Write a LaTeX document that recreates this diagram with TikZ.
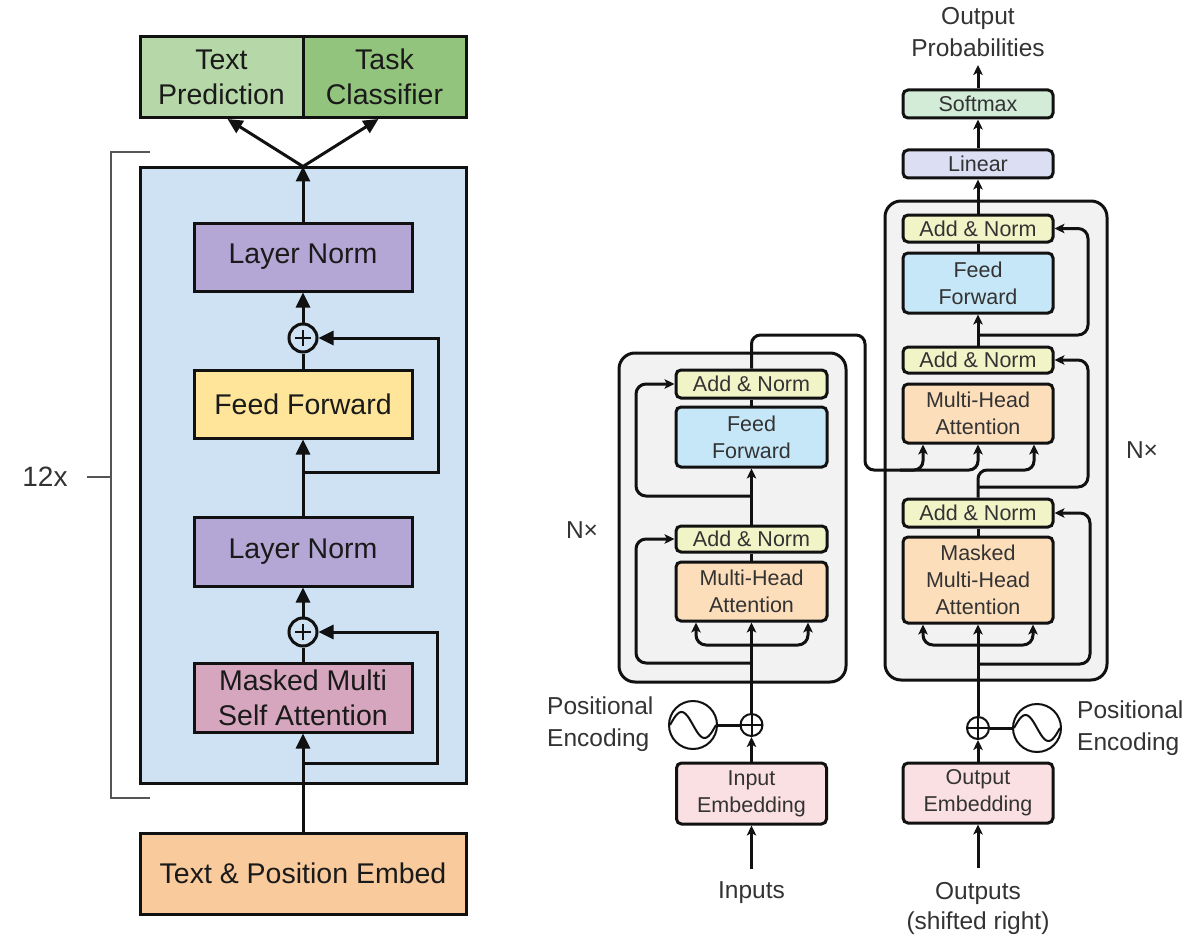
\documentclass[tikz,border=0pt]{standalone}
\usepackage{fontspec}
\setmainfont{Liberation Sans}
\usetikzlibrary{arrows.meta,calc}
\definecolor{tpcol}{HTML}{B6D7A8}
\definecolor{tccol}{HTML}{93C47D}
\definecolor{bluebg}{HTML}{CFE2F3}
\definecolor{lncol}{HTML}{B4A7D6}
\definecolor{ffcol}{HTML}{FFE599}
\definecolor{mmcol}{HTML}{D5A6BD}
\definecolor{tecol}{HTML}{F9CB9C}
\definecolor{ltext}{HTML}{1A1A1A}
\definecolor{rtext}{HTML}{333333}
\definecolor{addcol}{HTML}{F1F4C6}
\definecolor{rffcol}{HTML}{C6E7F7}
\definecolor{mhacol}{HTML}{FCDEBB}
\definecolor{embcol}{HTML}{FBE0E3}
\definecolor{lincol}{HTML}{DCDFF4}
\definecolor{smcol}{HTML}{D2ECD8}
\definecolor{outercol}{HTML}{F2F2F2}
\definecolor{brkcol}{HTML}{555555}
\definecolor{linecol}{HTML}{111111}
\begin{document}
\begin{tikzpicture}[x=1pt,y=-1pt,
  lbox/.style={draw=linecol, line width=3pt, inner sep=0pt, align=center,
    font=\fontsize{28.5}{35}\selectfont, text=ltext},
  lplus/.style={circle, draw=linecol, fill=bluebg, line width=3pt, minimum size=28pt, inner sep=0pt,
    path picture={\draw[line width=2.8pt] ([xshift=-8pt]path picture bounding box.center) -- ([xshift=8pt]path picture bounding box.center);
      \draw[line width=2.8pt] ([yshift=-8pt]path picture bounding box.center) -- ([yshift=8pt]path picture bounding box.center);}},
  larr/.style={draw=linecol, line width=3pt, -{Triangle[width=14pt,length=15pt]}},
  lline/.style={draw=linecol, line width=3pt},
  bracket/.style={draw=brkcol, line width=1.6pt},
  rbox/.style={draw=linecol, rounded corners=5pt, line width=3pt, inner sep=0pt, align=center,
    font=\fontsize{21.5}{27}\selectfont, text=rtext},
  outerbox/.style={draw=linecol, fill=outercol, rounded corners=16pt, line width=3pt},
  rlabel/.style={font=\fontsize{24.5}{32}\selectfont, text=rtext, align=center, inner sep=0pt},
  rplus/.style={circle, draw=linecol, fill=white, line width=2pt, minimum size=22pt, inner sep=0pt,
    path picture={\draw[line width=2pt] (path picture bounding box.west) -- (path picture bounding box.east);
      \draw[line width=2pt] (path picture bounding box.north) -- (path picture bounding box.south);}},
  sinecirc/.style={circle, draw=linecol, fill=white, line width=2pt, minimum size=48pt, inner sep=0pt},
  rarr/.style={draw=linecol, line width=3pt, -{Stealth[width=9.5pt,length=10pt,inset=2.5pt]}},
  rline/.style={draw=linecol, line width=3pt},
]
\useasboundingbox[fill=white] (0,0) rectangle (1200,947);

% ================= LEFT: GPT =================
\node[lbox, fill=bluebg, minimum width=326pt, minimum height=615pt] (blue) at (303,475.5) {};
\node[lbox, fill=tpcol, minimum width=163pt, minimum height=81pt] (tp) at (221.5,77) {Text\\Prediction};
\node[lbox, fill=tccol, minimum width=163pt, minimum height=81pt] (tc) at (384.5,77) {Task\\Classifier};
\node[lbox, fill=lncol, minimum width=218pt, minimum height=68pt] (ln1) at (303,257) {Layer Norm};
\node[lplus] (p1) at (303,338) {};
\node[lbox, fill=ffcol, minimum width=218pt, minimum height=68pt] (ff) at (303,404) {Feed Forward};
\node[lbox, fill=lncol, minimum width=218pt, minimum height=69pt] (ln2) at (303,551.5) {Layer Norm};
\node[lplus] (p2) at (303,632) {};
\node[lbox, fill=mmcol, minimum width=218pt, minimum height=69pt] (mm) at (303,697.5) {Masked Multi\\Self Attention};
\node[lbox, fill=tecol, minimum width=326pt, minimum height=81pt] (te) at (303,873.5) {Text \& Position Embed};

% bracket
\node[font=\fontsize{28}{34}\selectfont, text=rtext, inner sep=0pt] (twelve) at (45,477) {12x};
\coordinate (brk) at (111,477);
\draw[bracket] (150,152) -- (111,152) -- (111,798) -- (150,798);
\draw[bracket] (brk) -- ++(-24,0);

% connectors
\coordinate (s2) at (303,763);
\coordinate (s1) at (303,472);
\draw[larr] (te.north) -- (mm.south);
\draw[larr] (s2) -- (437,763) -- (437,632) -- (p2.east);
\draw[lline] (mm.north) -- (p2.south);
\draw[larr] (p2.north) -- (ln2.south);
\draw[larr] (ln2.north) -- (ff.south);
\draw[larr] (s1) -- (438,472) -- (438,338) -- (p1.east);
\draw[lline] (ff.north) -- (p1.south);
\draw[larr] (p1.north) -- (ln1.south);
\draw[larr] (ln1.north) -- (blue.north);
\draw[larr] (blue.north) -- ([xshift=6pt]tp.south);
\draw[larr] (blue.north) -- ([xshift=-6pt]tc.south);

% ================= RIGHT: Transformer =================
\node[outerbox, minimum width=227pt, minimum height=329pt] (encbox) at (732.5,517.5) {};
\node[outerbox, minimum width=222pt, minimum height=479pt] (decbox) at (996,440.5) {};

% encoder
\node[rbox, fill=addcol, minimum width=151pt, minimum height=28pt] (ean2) at (751.5,384) {Add \& Norm};
\node[rbox, fill=rffcol, minimum width=151pt, minimum height=60pt] (eff) at (751.5,437) {Feed\\Forward};
\node[rbox, fill=addcol, minimum width=151pt, minimum height=26pt] (ean1) at (751.5,539) {Add \& Norm};
\node[rbox, fill=mhacol, minimum width=151pt, minimum height=59pt] (emha) at (751.5,591.5) {Multi-Head\\Attention};
\node[rplus] (ep) at (751.5,725) {};
\node[sinecirc] (esin) at (693,725) {};
\node[rbox, fill=embcol, minimum width=150pt, minimum height=61pt] (eemb) at (751.5,793.5) {Input\\Embedding};
\node[rlabel] (inputs) at (751.5,893) {Inputs};
\node[rlabel, anchor=west, align=left] (epe) at (547,724) {Positional\\Encoding};
\node[rlabel] (enx) at (582,530) {N×};

% decoder
\node[rbox, fill=addcol, minimum width=150pt, minimum height=27pt] (dan3) at (978,228.5) {Add \& Norm};
\node[rbox, fill=rffcol, minimum width=150pt, minimum height=60pt] (dff) at (978,283) {Feed\\Forward};
\node[rbox, fill=addcol, minimum width=150pt, minimum height=26pt] (dan2) at (978,360) {Add \& Norm};
\node[rbox, fill=mhacol, minimum width=150pt, minimum height=59pt] (dmha) at (978,413.5) {Multi-Head\\Attention};
\node[rbox, fill=addcol, minimum width=150pt, minimum height=28pt] (dan1) at (978,513) {Add \& Norm};
\node[rbox, fill=mhacol, minimum width=150pt, minimum height=86pt] (dmmha) at (978,580) {Masked\\Multi-Head\\Attention};
\node[rplus] (dp) at (978,728) {};
\node[sinecirc] (dsin) at (1037,728) {};
\node[rbox, fill=embcol, minimum width=150pt, minimum height=60pt] (demb) at (978,793) {Output\\Embedding};
\node[rlabel, font=\fontsize{24.5}{30}\selectfont] (outputs) at (978,908) {Outputs\\(shifted right)};
\node[rlabel, anchor=west, align=left] (dpe) at (1077,728) {Positional\\Encoding};
\node[rlabel] (dnx) at (1142,450) {N×};
\node[rbox, fill=lincol, minimum width=150pt, minimum height=28pt] (lin) at (978,164) {Linear};
\node[rbox, fill=smcol, minimum width=150pt, minimum height=28pt] (smax) at (978,104) {Softmax};
\node[rlabel] (oprob) at (978,32) {Output\\Probabilities};

% sine waves
\begin{scope}[shift={(esin.center)}]
\draw[line width=2pt, draw=linecol] plot[domain=-23:23, samples=41, smooth] (\x,{13*sin(\x*7.826)});
\end{scope}
\begin{scope}[shift={(dsin.center)}]
\draw[line width=2pt, draw=linecol] plot[domain=-23:23, samples=41, smooth] (\x,{13*sin(\x*7.826)});
\end{scope}

% encoder connectors
\coordinate (ein) at (751.5,869);
\draw[rarr] (ein) -- (eemb.south);
\draw[rarr] (eemb.north) -- (ep.south);
\draw[rline] (esin.east) -- (ep.west);
\draw[rarr] (ep.north) -- (emha.south);
\draw[rarr, rounded corners=10pt] (751.5,645) -- (696,645) -- ([xshift=-55.5pt]emha.south);
\draw[rarr, rounded corners=10pt] (751.5,645) -- (808,645) -- ([xshift=56.5pt]emha.south);
\draw[rarr, rounded corners=10pt] (751.5,663) -- (636,663) -- (636,539) -- (ean1.west);
\draw[rline] (emha.north) -- (ean1.south);
\draw[rarr] (ean1.north) -- (eff.south);
\draw[rarr, rounded corners=10pt] (751.5,496) -- (636,496) -- (636,384) -- (ean2.west);
\draw[rline] (eff.north) -- (ean2.south);
\draw[rarr, rounded corners=9pt] (ean2.north) -- (751.5,335) -- (865,335) -- (865,470) -- (978,470) -- (dmha.south);
\draw[rarr, rounded corners=9pt] (900,470) -- (923,470) -- ([xshift=-55pt]dmha.south);

% decoder connectors
\coordinate (din) at (978,868);
\coordinate (dout) at (978,65);
\draw[rarr] (din) -- (demb.south);
\draw[rarr] (demb.north) -- (dp.south);
\draw[rline] (dp.east) -- (dsin.west);
\draw[rarr] (dp.north) -- (dmmha.south);
\draw[rarr, rounded corners=10pt] (978,645) -- (923,645) -- ([xshift=-55pt]dmmha.south);
\draw[rarr, rounded corners=10pt] (978,645) -- (1033,645) -- ([xshift=55pt]dmmha.south);
\draw[rarr, rounded corners=10pt] (978,664) -- (1090,664) -- (1090,513) -- (dan1.east);
\draw[rline] (dmmha.north) -- (dan1.south);
\draw[rarr, rounded corners=9pt] (dan1.north) -- (978,470) -- (1034,470) -- ([xshift=56pt]dmha.south);
\draw[rarr, rounded corners=10pt] (978,487) -- (1088,487) -- (1088,360) -- (dan2.east);
\draw[rarr] (dan2.north) -- (dff.south);
\draw[rarr, rounded corners=10pt] (978,335) -- (1088,335) -- (1088,228.5) -- (dan3.east);
\draw[rline] (dff.north) -- (dan3.south);
\draw[rarr] (dan3.north) -- (lin.south);
\draw[rarr] (lin.north) -- (smax.south);
\draw[rarr] (smax.north) -- (dout);
\end{tikzpicture}
\end{document}
